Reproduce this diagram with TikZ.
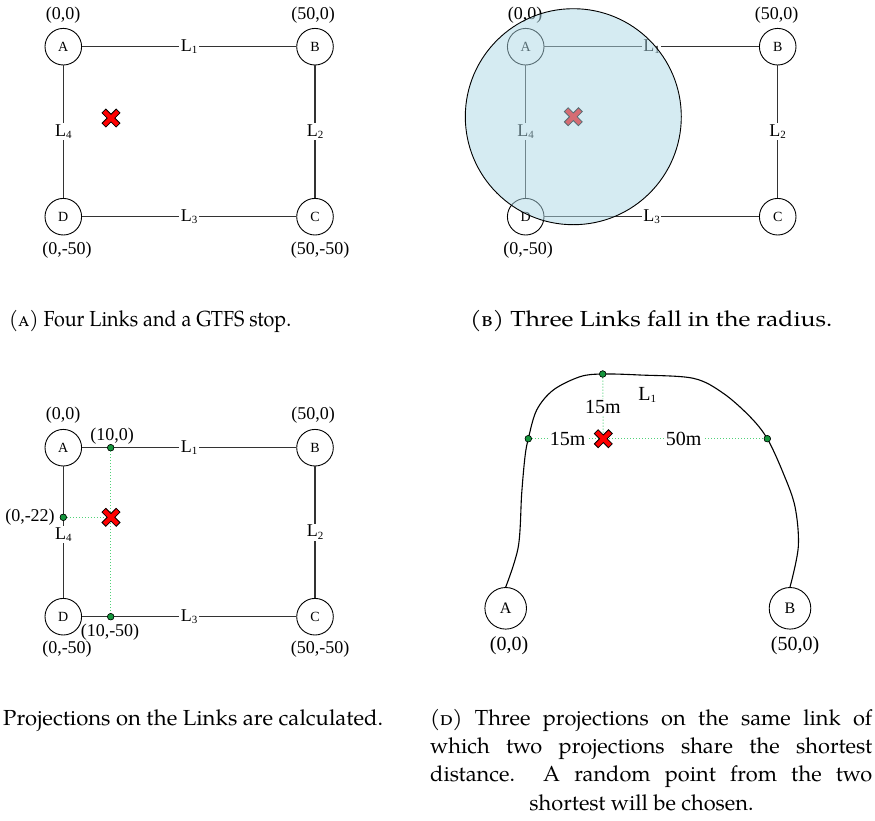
\documentclass[tikz,border=0pt]{standalone}
\usepackage{fontspec}
\newfontfamily\tms{Liberation Serif}
\newfontfamily\pag{TeX Gyre Pagella}
\definecolor{projg}{RGB}{80,210,120}
\definecolor{dotg}{RGB}{20,150,60}
\definecolor{radc}{RGB}{173,216,230}
\newcommand\Ls[1]{L\raisebox{-0.3ex}{\fontsize{11}{11}\selectfont #1}}
\tikzset{
  vtx/.style={circle,draw,line width=0.9pt,minimum size=36.6pt,inner sep=0pt,fill=white,font=\tms\fontsize{14}{14}\selectfont},
  vtxd/.style={vtx,minimum size=41.6pt,font=\tms\fontsize{16}{16}\selectfont},
  link/.style={draw=black!80,line width=1.1pt},
  lbl/.style={fill=white,inner sep=1.5pt,font=\tms\fontsize{18}{18}\selectfont},
  lbld/.style={fill=white,inner sep=1.5pt,font=\tms\fontsize{20}{20}\selectfont},
  crd/.style={inner sep=0pt,font=\tms\fontsize{18}{18}\selectfont},
  crdd/.style={inner sep=0pt,font=\tms\fontsize{20}{20}\selectfont},
  gdot/.style={circle,fill=dotg,draw=black,line width=0.5pt,inner sep=0pt,minimum size=6.5pt},
  proj/.style={draw=projg,line width=1pt,dotted},
  capt/.style={inner sep=0pt,font=\pag\fontsize{21.8}{21.8}\selectfont},
  stopx/.pic={\draw[fill=red,line width=0.8pt,rotate=45] (-2.7,-10) -- (2.7,-10) -- (2.7,-2.7) -- (10,-2.7) -- (10,2.7) -- (2.7,2.7) -- (2.7,10) -- (-2.7,10) -- (-2.7,2.7) -- (-10,2.7) -- (-10,-2.7) -- (-2.7,-2.7) -- cycle;}
}
\begin{document}
\begin{tikzpicture}[x=1pt,y=-1pt]
\useasboundingbox[fill=white] (0,0) rectangle (875,820);
% ---------- Panel A ----------
\node[vtx] (a1) at (63.3,46.7) {A};
\node[vtx] (b1) at (315,46.7) {B};
\node[vtx] (c1) at (315,216.7) {C};
\node[vtx] (d1) at (63.3,216.7) {D};
\draw[link] (a1) -- node[lbl] (l11) {\Ls{1}} (b1);
\draw[link] (b1) -- node[lbl] (l12) {\Ls{2}} (c1);
\draw[link] (d1) -- node[lbl] (l13) {\Ls{3}} (c1);
\draw[link] (a1) -- node[lbl] (l14) {\Ls{4}} (d1);
\node[crd] (a1c) at (63,15) {(0,0)};
\node[crd] (b1c) at (313,15) {(50,0)};
\node[crd] (d1c) at (67,250) {(0,-50)};
\node[crd] (c1c) at (320,250) {(50,-50)};
\coordinate (x1) at (111,118);
\pic at (x1) {stopx};
\node[capt,anchor=base west] (capa) at (9,326) {\resizebox{282pt}{\height}{(\textsc{a}) Four Links and a GTFS stop.}};
% ---------- Panel B ----------
\node[vtx] (a2) at (525.7,46.7) {A};
\node[vtx] (b2) at (777.7,46.7) {B};
\node[vtx] (c2) at (777.7,216.7) {C};
\node[vtx] (d2) at (525.7,216.7) {D};
\draw[link] (a2) -- node[lbl] (l21) {\Ls{1}} (b2);
\draw[link] (b2) -- node[lbl] (l22) {\Ls{2}} (c2);
\draw[link] (d2) -- node[lbl] (l23) {\Ls{3}} (c2);
\draw[link] (a2) -- node[lbl] (l24) {\Ls{4}} (d2);
\node[crd] (a2c) at (525,15) {(0,0)};
\node[crd] (b2c) at (776.7,15) {(50,0)};
\node[crd] (d2c) at (528,250) {(0,-50)};
\coordinate (x2) at (573.3,116.7);
\pic at (x2) {stopx};
\node[circle,draw=black,line width=0.9pt,fill=radc,fill opacity=0.5,minimum size=216pt,inner sep=0pt] (rad) at (573.3,116.7) {};
\node[capt,anchor=base west] (capb) at (470,326) {\resizebox{362pt}{\height}{(\textsc{b}) Three Links fall in the radius.}};
% ---------- Panel C ----------
\node[vtx] (a3) at (63.3,447.7) {A};
\node[vtx] (b3) at (315,447.7) {B};
\node[vtx] (c3) at (315,616.7) {C};
\node[vtx] (d3) at (63.3,616.7) {D};
\draw[link] (a3) -- node[lbl] (l31) {\Ls{1}} (b3);
\draw[link] (b3) -- node[lbl] (l32) {\Ls{2}} (c3);
\draw[link] (d3) -- node[lbl] (l33) {\Ls{3}} (c3);
\draw[link] (a3) -- node[lbl,pos=0.52] (l34) {\Ls{4}} (d3);
\node[gdot] (p31) at (110.7,447.7) {};
\node[gdot] (p32) at (63.3,517.3) {};
\node[gdot] (p33) at (110.7,616.7) {};
\coordinate (x3) at (111,517.3);
\draw[proj] (p31) -- (p33);
\draw[proj] (p32) -- (x3);
\pic at (x3) {stopx};
\node[gdot] at (p31) {};
\node[gdot] at (p32) {};
\node[gdot] at (p33) {};
\node[crd] (a3c) at (63,415) {(0,0)};
\node[crd] (b3c) at (313,415) {(50,0)};
\node[crd] (p31c) at (112,436) {(10,0)};
\node[crd] (p32c) at (30,517) {(0,-22)};
\node[crd] (p33c) at (110,631.7) {(10,-50)};
\node[crd] (d3c) at (67,649) {(0,-50)};
\node[crd] (c3c) at (320,649) {(50,-50)};
\node[capt,anchor=base west] (capc) at (3,725) {\resizebox{380pt}{\height}{Projections on the Links are calculated.}};
% ---------- Panel D ----------
\node[vtxd] (a4) at (505.7,608.3) {A};
\node[vtxd] (b4) at (790,608.3) {B};
\draw[line width=1.1pt] plot[smooth,tension=0.55] coordinates {(a4.north) (518.3,546.7) (521.7,493.3) (525,456.7) (528.3,438.7) (536.7,410) (553.3,390) (580,376.7) (602.7,374) (640,375) (693.3,378.3) (723.3,393.3) (750,416.7) (767.3,438.7) (783.3,473.3) (795,506.7) (798.3,546.7) (b4.north)};
\node[gdot] (p41) at (528.3,438.7) {};
\node[gdot] (p42) at (602.7,374) {};
\node[gdot] (p43) at (767.3,438.7) {};
\coordinate (x4) at (603.3,438.7);
\draw[proj] (p41) -- node[lbld] (m41) {15m} (x4);
\draw[proj] (p42) -- node[lbld,pos=0.48] (m42) {15m} (x4);
\draw[proj] (x4) -- node[lbld] (m43) {50m} (p43);
\pic at (x4) {stopx};
\node[gdot] at (p41) {};
\node[gdot] at (p42) {};
\node[gdot] at (p43) {};
\node[crdd] (l41) at (647.3,395) {\Ls{1}};
\node[crdd] (a4c) at (509,646) {(0,0)};
\node[crdd] (b4c) at (795,646) {(50,0)};
\node[capt,anchor=base west] (capd1) at (430,725) {\makebox[442pt][s]{(\textsc{d}) Three projections on the same link of}};
\node[capt,anchor=base west] (capd2) at (430,753) {\makebox[442pt][s]{which two projections share the shortest}};
\node[capt,anchor=base west] (capd3) at (430,781.5) {\makebox[442pt][s]{distance.\ \ A random point from the two}};
\node[capt,anchor=base] (capd4) at (641.5,810) {shortest will be chosen.};
\end{tikzpicture}
\end{document}
